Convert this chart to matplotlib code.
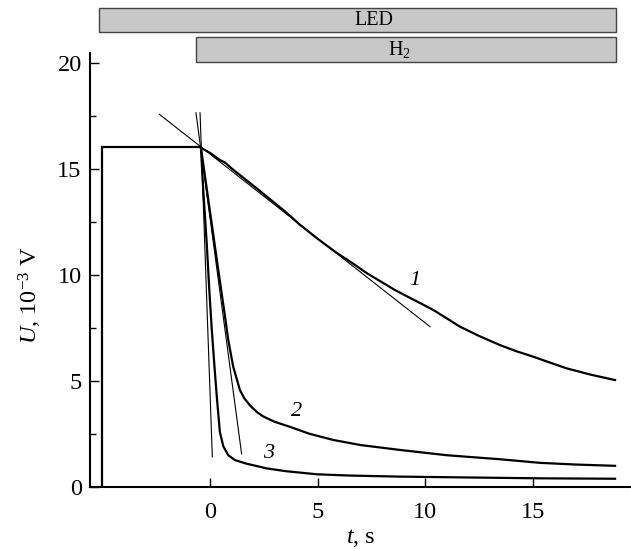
import numpy as np
import matplotlib
matplotlib.use("Agg")
import matplotlib.pyplot as plt
from matplotlib.patches import Rectangle

plt.rcParams['font.family'] = ['Liberation Serif', 'DejaVu Serif']
plt.rcParams['mathtext.fontset'] = 'custom'
plt.rcParams['mathtext.rm'] = 'Liberation Serif'
plt.rcParams['mathtext.it'] = 'Liberation Serif:italic'

# step before the gas is let in (LED on)
t_pre = [-5.0, -5.0, -0.42]
u_pre = [0.0, 16.04, 16.04]

# curve 1
t1 = [-0.42, 0.0, 0.46, 0.7, 1.0, 1.55, 2.2, 2.8, 3.5, 4.18, 5.0, 5.88, 6.6,
      7.28, 8.0, 8.59, 9.5, 10.37, 11.0, 11.61, 12.5, 13.47, 14.2, 15.02,
      15.8, 16.57, 17.7, 18.81]
u1 = [16.02, 15.78, 15.44, 15.32, 15.05, 14.6, 14.08, 13.58, 13.0, 12.38,
      11.72, 11.06, 10.58, 10.1, 9.66, 9.3, 8.82, 8.36, 7.96, 7.57, 7.13, 6.7,
      6.42, 6.15, 5.87, 5.6, 5.3, 5.05]

# curve 2
t2 = [-0.42, -0.2, 0.1, 0.4, 0.7, 0.85, 1.08, 1.39, 1.6, 1.86, 2.2, 2.48,
      3.0, 3.72, 4.6, 5.73, 7.0, 8.82, 11.0, 13.47, 15.33, 17.0, 18.81]
u2 = [16.04, 14.45, 12.3, 10.15, 8.04, 6.94, 5.68, 4.58, 4.18, 3.85, 3.52,
      3.33, 3.08, 2.84, 2.52, 2.22, 1.98, 1.75, 1.5, 1.31, 1.14, 1.06, 1.0]

# curve 3
t3 = [-0.42, -0.31, -0.15, -0.03, 0.08, 0.21, 0.33, 0.46, 0.62, 0.85, 1.16,
      1.7, 2.63, 3.5, 4.96, 6.5, 8.82, 12.0, 15.3, 18.81]
u3 = [16.04, 14.0, 11.5, 9.3, 7.5, 5.68, 4.11, 2.6, 1.92, 1.5, 1.27,
      1.1, 0.88, 0.75, 0.6, 0.54, 0.49, 0.45, 0.41, 0.39]

# initial-slope tangents
tan1 = ([-2.35, 10.22], [17.6, 7.57])
tan2 = ([-0.65, 1.47], [17.67, 1.56])
tan3 = ([-0.46, 0.11], [17.67, 1.42])

curve_labels = ['1', '2', '3']
label_pos = [(9.52, 9.77), (4.03, 3.56), (2.71, 1.59)]

# bars on top: (text, t_start, t_end, y_bottom, y_top, text_t)
bars = [('LED', -5.14, 18.84, 21.5, 22.6, 7.6),
        ('H$_2$', -0.65, 18.84, 20.09, 21.26, 8.8)]

fig = plt.figure(figsize=(6.31, 5.49), dpi=100)
ax = fig.add_axes([90 / 631, 62 / 549, 541 / 631, 433.7 / 549])

lw = 1.6
ax.plot(t_pre, u_pre, color='black', lw=lw, solid_joinstyle='miter')
for t, u in [(t1, u1), (t2, u2), (t3, u3)]:
    ax.plot(t, u, color='black', lw=lw)
for tx, ty in [tan1, tan2, tan3]:
    ax.plot(tx, ty, color='black', lw=0.8)

for txt, (x, y) in zip(curve_labels, label_pos):
    ax.text(x, y, txt, fontsize=16, style='italic', ha='center', va='center')

for txt, x0, x1, y0, y1, xt in bars:
    ax.add_patch(Rectangle((x0, y0), x1 - x0, y1 - y0, facecolor='#c8c8c8',
                           edgecolor='#444444', lw=1.0, clip_on=False))
    ax.text(xt, (y0 + y1) / 2, txt, fontsize=14.5, ha='center', va='center')

ax.set_xlim(-5.57, 19.55)
ax.set_ylim(0, 20.48)
ax.set_xticks([0, 5, 10, 15])
ax.set_yticks([0, 5, 10, 15, 20])
ax.set_yticks([2.5, 7.5, 12.5, 17.5], minor=True)

ax.spines['top'].set_visible(False)
ax.spines['right'].set_visible(False)
ax.spines['left'].set_linewidth(1.5)
ax.spines['bottom'].set_linewidth(1.5)

ax.tick_params(axis='both', which='major', direction='in', length=6.5,
               width=1.0, labelsize=17.5)
ax.tick_params(axis='x', which='major', pad=10.5)
ax.tick_params(axis='y', which='major', pad=6)
ax.tick_params(axis='y', which='minor', direction='in', length=4.5, width=1.0)

ax.set_xlabel('$t$, s', fontsize=17.5)
ax.set_ylabel('$U$, 10$^{−3}$ V', fontsize=17.5)
ax.xaxis.label.set_va('center')
ax.yaxis.label.set_va('center')
ax.xaxis.set_label_coords(0.5, -0.118)
ax.yaxis.set_label_coords(-0.111, 0.443)

fig.savefig('out.png', dpi=100)
